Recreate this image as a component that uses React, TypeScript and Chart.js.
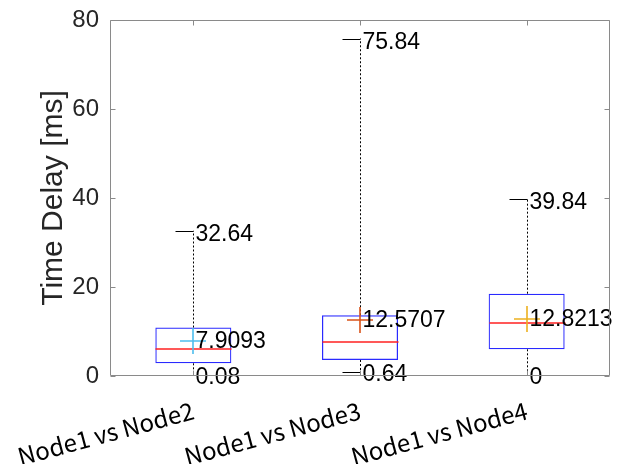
import React, { useEffect, useRef } from "react";
import { Chart, registerables } from "chart.js";

Chart.register(...registerables);

const categories = ["Node1 vs Node2", "Node1 vs Node3", "Node1 vs Node4"];
const q1 = [2.85, 3.6, 6.0];
const q3 = [10.9, 13.65, 18.5];
const medians = [6.0, 7.55, 11.9];
const means = [7.9093, 12.5707, 12.8213];
const maxs = [32.64, 75.84, 39.84];
const mins = [0.08, 0.64, 0];
const maxLabels = ["32.64", "75.84", "39.84"];
const meanLabels = ["7.9093", "12.5707", "12.8213"];
const minLabels = ["0.08", "0.64", "0"];
const meanColors = ["#4DBEEE", "#D95319", "#EDB120"];
const yTicks = [0, 20, 40, 60, 80];

const boxPlugin = {
  id: "boxOverlay",
  afterDatasetsDraw(chart: any) {
    const ctx = chart.ctx;
    const xs = chart.scales.x;
    const ys = chart.scales.y;
    const area = chart.chartArea;
    const meta = chart.getDatasetMeta(0);
    ctx.save();
    for (let i = 0; i < categories.length; i++) {
      const cx = Math.round(xs.getPixelForValue(i)) + 0.5;
      const el = meta.data[i];
      const hw = el ? el.width / 2 : 38;
      const yq1 = ys.getPixelForValue(q1[i]);
      const yq3 = ys.getPixelForValue(q3[i]);
      const ymax = ys.getPixelForValue(maxs[i]);
      const ymin = ys.getPixelForValue(mins[i]);
      // whiskers
      ctx.strokeStyle = "#000";
      ctx.lineWidth = 1;
      ctx.setLineDash([2, 2]);
      ctx.beginPath();
      ctx.moveTo(cx, yq3);
      ctx.lineTo(cx, ymax);
      ctx.moveTo(cx, yq1);
      ctx.lineTo(cx, ymin);
      ctx.stroke();
      ctx.setLineDash([]);
      // caps
      ctx.beginPath();
      ctx.moveTo(cx - 18, Math.round(ymax) + 0.5);
      ctx.lineTo(cx, Math.round(ymax) + 0.5);
      ctx.moveTo(cx - 18, Math.round(ymin) - 0.5);
      ctx.lineTo(cx, Math.round(ymin) - 0.5);
      ctx.stroke();
      // median
      const ymed = Math.round(ys.getPixelForValue(medians[i]));
      ctx.strokeStyle = "#ff2020";
      ctx.lineWidth = 1.6;
      ctx.beginPath();
      ctx.moveTo(cx - hw, ymed);
      ctx.lineTo(cx + hw, ymed);
      ctx.stroke();
      // mean cross
      const ymean = Math.round(ys.getPixelForValue(means[i]));
      const mx = cx - 0.5;
      ctx.strokeStyle = meanColors[i];
      ctx.lineWidth = 1.6;
      ctx.beginPath();
      ctx.moveTo(mx - 13, ymean);
      ctx.lineTo(mx + 13, ymean);
      ctx.moveTo(mx, ymean - 13);
      ctx.lineTo(mx, ymean + 13);
      ctx.stroke();
      // labels
      ctx.fillStyle = "#000";
      ctx.font = "23px 'Liberation Sans'";
      ctx.textAlign = "left";
      ctx.textBaseline = "middle";
      ctx.fillText(maxLabels[i], cx + 2, ymax + 4);
      ctx.fillText(meanLabels[i], cx + 2, ymean + 1);
      ctx.fillText(minLabels[i], cx + 2, ymin + 2);
    }
    // frame
    ctx.strokeStyle = "#8a8a8a";
    ctx.lineWidth = 1;
    const L = Math.round(area.left) + 0.5;
    const R = Math.round(area.right) - 0.5;
    const T = Math.round(area.top) + 0.5;
    const B = Math.round(area.bottom) - 0.5;
    ctx.beginPath();
    ctx.rect(L, T, R - L, B - T);
    for (const v of yTicks) {
      const y = Math.round(ys.getPixelForValue(v)) + 0.5;
      ctx.moveTo(L, y);
      ctx.lineTo(L + 5, y);
      ctx.moveTo(R, y);
      ctx.lineTo(R - 5, y);
    }
    for (let i = 0; i < categories.length; i++) {
      const x = Math.round(xs.getPixelForValue(i)) + 0.5;
      ctx.moveTo(x, B);
      ctx.lineTo(x, B - 5);
      ctx.moveTo(x, T);
      ctx.lineTo(x, T + 5);
    }
    ctx.stroke();
    ctx.restore();
  },
};

export default function App() {
  const ref = useRef<HTMLCanvasElement>(null);
  useEffect(() => {
    document.body.style.margin = "0";
    const chart = new Chart(ref.current!, {
      type: "bar",
      data: {
        labels: categories,
        datasets: [
          {
            data: q1.map((v, i) => [v, q3[i]]) as any,
            backgroundColor: "rgba(0,0,0,0)",
            borderColor: "#2a2aff",
            borderWidth: 1.2,
            borderSkipped: false,
            barPercentage: 0.456,
            categoryPercentage: 1,
          },
        ],
      },
      options: {
        animation: false,
        responsive: false,
        devicePixelRatio: 1,
        layout: { padding: { top: 20, right: 8, left: 0, bottom: 0 } },
        plugins: { legend: { display: false }, tooltip: { enabled: false } },
        scales: {
          x: {
            type: "category",
            offset: true,
            grid: { display: false },
            border: { display: false },
            ticks: {
              minRotation: 15,
              maxRotation: 15,
              labelOffset: 0,
              padding: 12,
              color: "#000",
              font: { family: "'Noto Sans CJK JP'", size: 24 },
            },
            afterFit: (s: any) => {
              s.height = 88;
              s.paddingLeft = 0;
              s.paddingRight = 0;
            },
          },
          y: {
            min: 0,
            max: 80,
            grid: { display: false },
            border: { display: false },
            ticks: {
              stepSize: 20,
              padding: 3,
              color: "#262626",
              font: { family: "'Liberation Sans'", size: 24 },
            },
            title: {
              display: true,
              text: "Time Delay [ms]",
              color: "#262626",
              font: { family: "'Liberation Sans'", size: 30 },
              padding: { top: 36, bottom: 0 },
            },
            afterFit: (s: any) => {
              s.width = 110;
              s.paddingTop = 0;
              s.paddingBottom = 0;
            },
          },
        },
      },
      plugins: [boxPlugin],
    });
    return () => chart.destroy();
  }, []);
  return <canvas ref={ref} width={618} height={464} />;
}
